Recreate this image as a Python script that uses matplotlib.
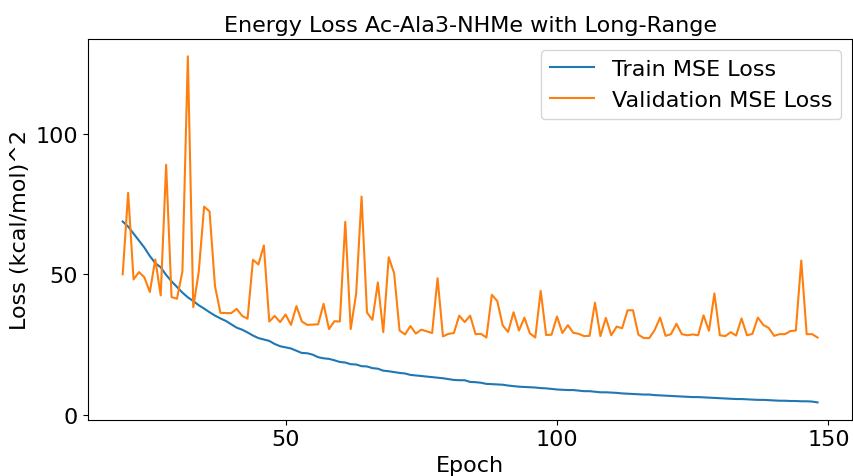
import matplotlib
matplotlib.use('Agg')
import matplotlib.pyplot as plt
from matplotlib.ticker import MultipleLocator

# Epochs shown in the chart
epochs = list(range(20, 149))

# Train loss
train_loss = [
    68.8, 67.0, 64.5, 62.0, 59.5, 56.5, 54.0, 52.5, 49.8, 47.5,
    45.5, 43.5, 41.8, 40.5, 39.0, 37.8, 36.5, 35.3, 34.3, 33.4,
    32.2, 31.0, 30.3, 29.3, 28.2, 27.3, 26.8, 26.3, 25.2, 24.4,
    24.0, 23.6, 22.8, 22.0, 21.9, 21.4, 20.5, 20.1, 19.9, 19.4,
    18.8, 18.6, 18.0, 17.9, 17.3, 17.2, 16.6, 16.4, 15.7, 15.5,
    15.2, 14.9, 14.7, 14.2, 14.0, 13.8, 13.6, 13.4, 13.2, 13.0,
    12.7, 12.4, 12.3, 12.3, 11.7, 11.6, 11.4, 11.0, 10.9, 10.8,
    10.7, 10.4, 10.2, 10.0, 9.9, 9.8, 9.7, 9.5, 9.4, 9.2,
    9.0, 8.9, 8.8, 8.8, 8.6, 8.4, 8.4, 8.2, 8.0, 8.0,
    7.9, 7.8, 7.6, 7.5, 7.4, 7.3, 7.2, 7.2, 7.0, 6.9,
    6.8, 6.7, 6.6, 6.5, 6.4, 6.3, 6.3, 6.2, 6.1, 6.0,
    5.9, 5.8, 5.7, 5.6, 5.6, 5.5, 5.4, 5.3, 5.3, 5.2,
    5.1, 5.0, 5.0, 4.9, 4.9, 4.8, 4.8, 4.7, 4.4,
]

# Validation loss
val_loss = [
    50.0, 79.0, 48.2, 50.8, 48.9, 43.7, 55.3, 42.5, 89.0, 41.9,
    41.3, 51.1, 127.6, 38.3, 50.8, 74.1, 72.4, 45.8, 36.3, 36.2,
    36.2, 37.7, 35.2, 34.2, 55.2, 53.5, 60.3, 33.2, 35.2, 33.0,
    35.7, 32.0, 38.7, 33.2, 32.0, 32.1, 32.2, 39.5, 30.5, 33.3,
    33.2, 68.7, 30.5, 43.0, 77.7, 36.4, 33.8, 47.1, 29.4, 56.1,
    50.4, 30.0, 28.6, 31.6, 28.9, 30.3, 29.7, 29.1, 48.6, 27.9,
    28.8, 29.1, 35.3, 33.0, 35.3, 28.7, 28.8, 27.5, 42.7, 40.5,
    31.8, 29.5, 36.5, 30.0, 34.6, 29.0, 27.5, 44.1, 28.4, 28.5,
    35.0, 29.1, 31.9, 29.2, 28.8, 28.0, 28.1, 39.9, 28.0, 34.5,
    28.3, 31.4, 30.8, 37.2, 37.2, 28.5, 27.3, 27.3, 30.2, 34.6,
    28.1, 28.7, 32.4, 28.7, 28.3, 28.6, 28.3, 35.4, 29.9, 43.2,
    28.3, 28.0, 29.4, 28.2, 34.3, 28.3, 28.8, 34.6, 32.0, 30.9,
    28.1, 28.7, 28.7, 29.8, 30.0, 54.9, 28.7, 28.7, 27.5,
]

fig = plt.figure(figsize=(8.54, 4.77), dpi=100)
ax = fig.add_subplot(111)
ax.plot(epochs, train_loss, label='Train MSE Loss')
ax.plot(epochs, val_loss, label='Validation MSE Loss')
ax.set_title('Energy Loss Ac-Ala3-NHMe with Long-Range', fontsize=16)
ax.set_xlabel('Epoch', fontsize=16)
ax.set_ylabel('Loss (kcal/mol)^2', fontsize=16)
ax.xaxis.set_major_locator(MultipleLocator(50))
ax.yaxis.set_major_locator(MultipleLocator(50))
ax.tick_params(labelsize=16)
ax.legend(fontsize=16)
fig.subplots_adjust(left=0.103, right=0.998, top=0.916, bottom=0.118)
fig.savefig('out.png', dpi=100)
